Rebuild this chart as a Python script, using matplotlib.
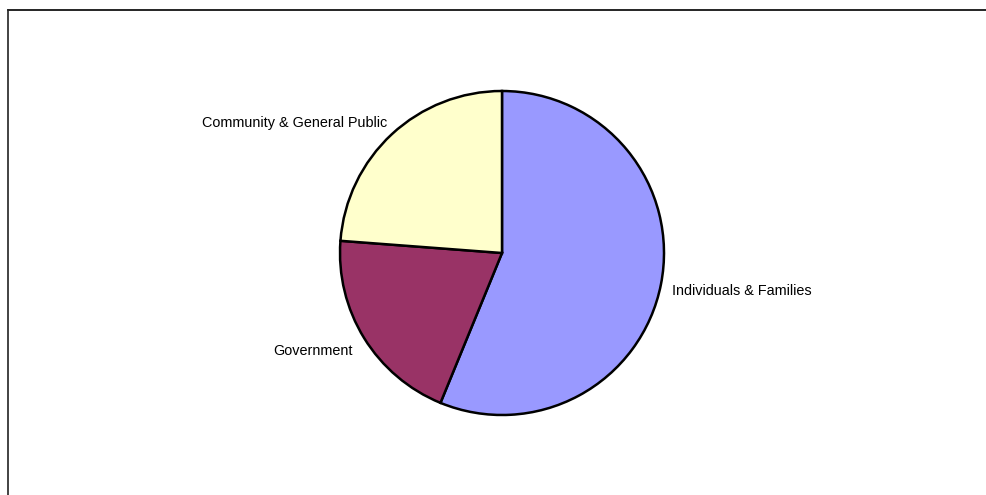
import matplotlib
matplotlib.use("Agg")
import matplotlib.pyplot as plt
from matplotlib.lines import Line2D

plt.rcParams['font.family'] = ['Liberation Sans', 'DejaVu Sans']

categories = ["Individuals & Families", "Government", "Community & General Public"]
shares = [56.2, 20.0, 23.8]
colors = ["#9999FF", "#993366", "#FFFFCC"]

W, H = 987, 495
fig = plt.figure(figsize=(W / 100, H / 100), dpi=100)
fig.patch.set_facecolor("white")

# Pie axes: centre (502, 253) px, radius 162 px
cx, cy, r = 502, 253, 162
ax = fig.add_axes([(cx - r) / W, (H - cy - r) / H, 2 * r / W, 2 * r / H])
ax.pie(shares, colors=colors, startangle=90, counterclock=False,
       wedgeprops=dict(edgecolor="black", linewidth=1.8), radius=1.0)
ax.set_xlim(-1, 1)
ax.set_ylim(-1, 1)
ax.set_axis_off()

# Category labels outside the pie (in radius units)
label_pos = {
    "Individuals & Families": (1.049, -0.234, "left"),
    "Government": (-0.920, -0.605, "right"),
    "Community & General Public": (-0.710, 0.803, "right"),
}
for name in categories:
    x, y, ha = label_pos[name]
    ax.text(x, y, name, ha=ha, va="center", fontsize=10.4, color="black",
            clip_on=False)

# Chart-area border (top and left edges)
fig.add_artist(Line2D([8 / W, 1.0], [1 - 10 / H, 1 - 10 / H],
                      transform=fig.transFigure, color="black", lw=1.2))
fig.add_artist(Line2D([8 / W, 8 / W], [0.0, 1 - 10 / H],
                      transform=fig.transFigure, color="#222222", lw=1.2))

fig.savefig("out.png", dpi=100, facecolor="white")
